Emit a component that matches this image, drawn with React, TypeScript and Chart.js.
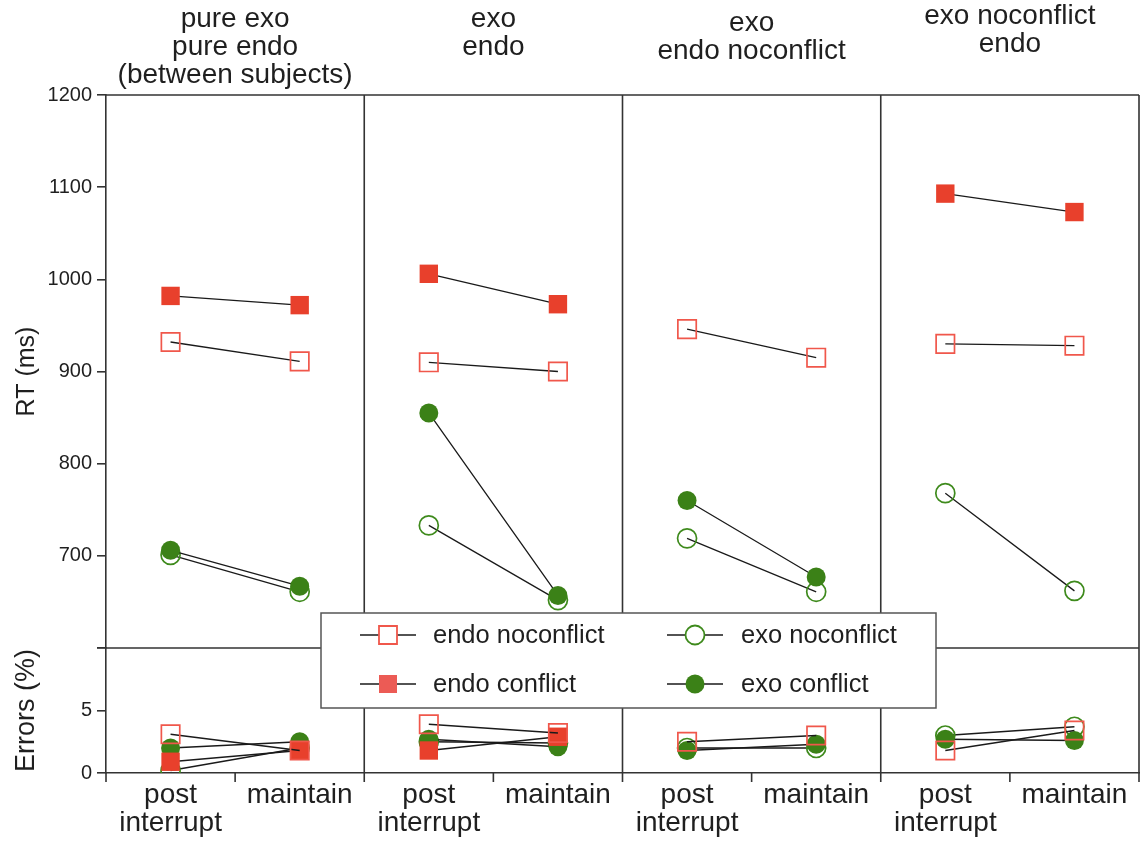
import React, { useEffect, useRef } from 'react';
import { Chart, registerables } from 'chart.js';

Chart.register(...registerables);

// ---------------- data ----------------
const panelTitles: string[][] = [
  ['pure exo', 'pure endo', '(between subjects)'],
  ['exo', 'endo'],
  ['exo', 'endo noconflict'],
  ['exo noconflict', 'endo'],
];
const conditionLabels: (string | string[])[] = [['post', 'interrupt'], 'maintain'];

const rtMin = 600;
const rtMax = 1200;
const rtTicks = [700, 800, 900, 1000, 1100, 1200];
const errMin = 0;
const errMax = 10;
const errTicks = [0, 5];

// order: panel1 post, panel1 maintain, panel2 post, panel2 maintain, ...
const rtEndoNoconflict = [932, 911, 910, 900, 946, 915, 930, 928];
const rtEndoConflict = [982, 972, 1006, 973, null, null, 1093, 1073];
const rtExoNoconflict = [701, 661, 733, 652, 719, 661, 768, 662];
const rtExoConflict = [706, 667, 855, 657, 760, 677, null, null];

const errEndoNoconflict = [3.1, 1.8, 3.9, 3.2, 2.5, 3.0, 1.8, 3.4];
const errEndoConflict = [0.9, 1.8, 1.8, 2.9, null, null, null, null];
const errExoNoconflict = [0.2, 2.0, 2.5, 2.4, 2.0, 2.0, 3.0, 3.7];
const errExoConflict = [2.0, 2.5, 2.7, 2.1, 1.8, 2.3, 2.7, 2.6];

// ---------------- styles ----------------
const FONT = '"Liberation Sans", Arial, Helvetica, sans-serif';
const TEXT = '#1f1f1f';
const AXIS = '#333333';
const LINE = '#1a1a1a';
const RED = '#E8402C';
const RED_OPEN = '#F0574B';
const RED_LEGEND = '#EC5B55';
const GREEN = '#3B8117';
const GREEN_OPEN = '#3E8A1C';

type Series = {
  label: string;
  rt: (number | null)[];
  err: (number | null)[];
  shape: 'rect' | 'circle';
  filled: boolean;
  color: string;
  legendColor: string;
};

// index 0 is drawn on top
const series: Series[] = [
  { label: 'endo noconflict', rt: rtEndoNoconflict, err: errEndoNoconflict, shape: 'rect', filled: false, color: RED_OPEN, legendColor: RED_OPEN },
  { label: 'endo conflict', rt: rtEndoConflict, err: errEndoConflict, shape: 'rect', filled: true, color: RED, legendColor: RED_LEGEND },
  { label: 'exo conflict', rt: rtExoConflict, err: errExoConflict, shape: 'circle', filled: true, color: GREEN, legendColor: GREEN },
  { label: 'exo noconflict', rt: rtExoNoconflict, err: errExoNoconflict, shape: 'circle', filled: false, color: GREEN_OPEN, legendColor: GREEN_OPEN },
];
const legendGrid = [
  ['endo noconflict', 'exo noconflict'],
  ['endo conflict', 'exo conflict'],
];

function toPoints(values: (number | null)[]) {
  const pts: { x: number; y: number | null }[] = [];
  const nConds = conditionLabels.length;
  for (let p = 0; p < panelTitles.length; p++) {
    for (let c = 0; c < nConds; c++) {
      pts.push({ x: p * nConds + c + 0.5, y: values[p * nConds + c] });
    }
    pts.push({ x: (p + 1) * nConds, y: null });
  }
  return pts;
}

function makeDataset(s: Series, values: (number | null)[], axis: string) {
  const isRect = s.shape === 'rect';
  return {
    label: s.label,
    data: toPoints(values),
    yAxisID: axis,
    borderColor: LINE,
    borderWidth: 1.3,
    tension: 0,
    spanGaps: false,
    fill: false,
    pointStyle: isRect ? 'rect' : 'circle',
    pointRadius: isRect ? 13 : 9.5,
    pointBackgroundColor: s.filled ? s.color : 'rgba(0,0,0,0)',
    pointBorderColor: s.color,
    pointBorderWidth: s.filled ? 0 : 1.7,
    pointHoverRadius: isRect ? 13 : 9.5,
  };
}

function drawMarker(ctx: CanvasRenderingContext2D, s: Series, x: number, y: number) {
  ctx.save();
  ctx.beginPath();
  if (s.shape === 'rect') {
    ctx.rect(x - 9, y - 9, 18, 18);
  } else {
    ctx.arc(x, y, 9.5, 0, Math.PI * 2);
  }
  if (s.filled) {
    ctx.fillStyle = s.legendColor;
    ctx.fill();
  } else {
    ctx.fillStyle = '#ffffff';
    ctx.fill();
    ctx.strokeStyle = s.legendColor;
    ctx.lineWidth = 1.8;
    ctx.stroke();
  }
  ctx.restore();
}

const titleBaselineShift = [0, 0, 4, -3];

const framePlugin = {
  id: 'frame',
  beforeDatasetsDraw(chart: any) {
    const { ctx, chartArea: a, scales } = chart;
    const x = scales.x;
    const yRT = scales.yRT;
    const nConds = conditionLabels.length;
    ctx.save();
    ctx.strokeStyle = AXIS;
    ctx.lineWidth = 1.6;
    ctx.beginPath();
    ctx.moveTo(a.left, a.top);
    ctx.lineTo(a.right, a.top);
    const yDiv = yRT.getPixelForValue(rtMin);
    ctx.moveTo(a.left, yDiv);
    ctx.lineTo(a.right, yDiv);
    for (let p = 1; p <= panelTitles.length; p++) {
      const px = x.getPixelForValue(p * nConds);
      ctx.moveTo(px, a.top);
      ctx.lineTo(px, a.bottom);
    }
    for (let i = 0; i <= panelTitles.length * nConds; i++) {
      const px = x.getPixelForValue(i);
      ctx.moveTo(px, a.bottom);
      ctx.lineTo(px, a.bottom + 9);
    }
    ctx.stroke();

    // panel titles
    ctx.fillStyle = TEXT;
    ctx.font = `28px ${FONT}`;
    ctx.textAlign = 'center';
    ctx.textBaseline = 'alphabetic';
    panelTitles.forEach((lines, p) => {
      const cx = x.getPixelForValue(p * nConds + nConds / 2);
      lines.forEach((t, i) => {
        ctx.fillText(t, cx, 27 + i * 28 + titleBaselineShift[p]);
      });
    });
    ctx.restore();
  },
  afterDraw(chart: any) {
    const { ctx } = chart;
    const box = { left: 321, top: 613, right: 936, bottom: 708 };
    ctx.save();
    ctx.fillStyle = '#ffffff';
    ctx.fillRect(box.left, box.top, box.right - box.left, box.bottom - box.top);
    ctx.strokeStyle = '#555555';
    ctx.lineWidth = 1.5;
    ctx.strokeRect(box.left, box.top, box.right - box.left, box.bottom - box.top);
    const cols = [
      { from: 360, to: 416, marker: 388, text: 433 },
      { from: 667, to: 723, marker: 695, text: 741 },
    ];
    const rows = [635, 684];
    ctx.font = `25.5px ${FONT}`;
    ctx.textBaseline = 'middle';
    ctx.textAlign = 'left';
    legendGrid.forEach((row, r) => {
      row.forEach((label, c) => {
        const s = series.find((q) => q.label === label)!;
        const col = cols[c];
        const y = rows[r];
        ctx.strokeStyle = LINE;
        ctx.lineWidth = 1.3;
        ctx.beginPath();
        ctx.moveTo(col.from, y);
        ctx.lineTo(col.to, y);
        ctx.stroke();
        drawMarker(ctx, s, col.marker, y);
        ctx.fillStyle = TEXT;
        ctx.fillText(label, col.text, y + 1);
      });
    });
    ctx.restore();
  },
};

export default function App() {
  const canvasRef = useRef<HTMLCanvasElement | null>(null);

  useEffect(() => {
    if (!canvasRef.current) return;
    const nConds = conditionLabels.length;
    const nSlots = panelTitles.length * nConds;
    const datasets = [
      ...series.map((s) => makeDataset(s, s.rt, 'yRT')),
      ...series.map((s) => makeDataset(s, s.err, 'yErr')),
    ];
    const chart = new Chart(canvasRef.current, {
      type: 'line',
      data: { datasets: datasets as any },
      options: {
        animation: false,
        responsive: false,
        events: [],
        layout: { autoPadding: false, padding: { top: 95, right: 9, left: 0, bottom: 0 } },
        plugins: { legend: { display: false }, tooltip: { enabled: false } },
        scales: {
          x: {
            type: 'linear',
            min: 0,
            max: nSlots,
            afterBuildTicks: (s: any) => {
              const t = [];
              for (let i = 0; i < nSlots; i++) t.push({ value: i + 0.5 });
              s.ticks = t;
            },
            afterFit: (s: any) => {
              s.height = 68;
              s.paddingLeft = 0;
              s.paddingRight = 0;
            },
            ticks: {
              autoSkip: false,
              maxRotation: 0,
              padding: 9,
              color: TEXT,
              font: { family: FONT, size: 28, lineHeight: 0.98 },
              callback: (_v: any, i: number) => conditionLabels[i % nConds],
            },
            grid: { display: false, drawTicks: false },
            border: { display: true, color: AXIS, width: 1.6 },
          },
          yRT: {
            type: 'linear',
            position: 'left',
            stack: 'rows',
            stackWeight: 553,
            weight: 2,
            min: rtMin,
            max: rtMax,
            afterBuildTicks: (s: any) => {
              s.ticks = [rtMin, ...rtTicks].map((v) => ({ value: v }));
            },
            afterFit: (s: any) => {
              s.width = 106;
            },
            ticks: {
              padding: 5,
              color: TEXT,
              font: { family: FONT, size: 20 },
              callback: (v: any) => (rtTicks.includes(v) ? String(v) : ''),
            },
            grid: { drawOnChartArea: false, drawTicks: true, tickLength: 9, color: AXIS, lineWidth: 1.6 },
            border: { display: true, color: AXIS, width: 1.6 },
            title: {
              display: true,
              text: 'RT (ms)',
              color: TEXT,
              font: { family: FONT, size: 25 },
              padding: { top: 12, bottom: 0 },
            },
          },
          yErr: {
            type: 'linear',
            position: 'left',
            stack: 'rows',
            stackWeight: 125,
            weight: 1,
            min: errMin,
            max: errMax,
            afterBuildTicks: (s: any) => {
              s.ticks = [...errTicks, errMax].map((v) => ({ value: v }));
            },
            afterFit: (s: any) => {
              s.width = 106;
            },
            ticks: {
              padding: 5,
              color: TEXT,
              font: { family: FONT, size: 20 },
              callback: (v: any) => (errTicks.includes(v) ? String(v) : ''),
            },
            grid: { drawOnChartArea: false, drawTicks: true, tickLength: 9, color: AXIS, lineWidth: 1.6 },
            border: { display: true, color: AXIS, width: 1.6 },
            title: {
              display: true,
              text: 'Errors (%)',
              color: TEXT,
              font: { family: FONT, size: 27 },
              padding: { top: 10, bottom: 0 },
            },
          },
        },
      } as any,
      plugins: [framePlugin],
    });
    return () => chart.destroy();
  }, []);

  return (
    <div style={{ position: 'fixed', left: 0, top: 0, width: 1148, height: 841, background: '#fff' }}>
      <canvas ref={canvasRef} width={1148} height={841} style={{ display: 'block', width: 1148, height: 841 }} />
    </div>
  );
}
